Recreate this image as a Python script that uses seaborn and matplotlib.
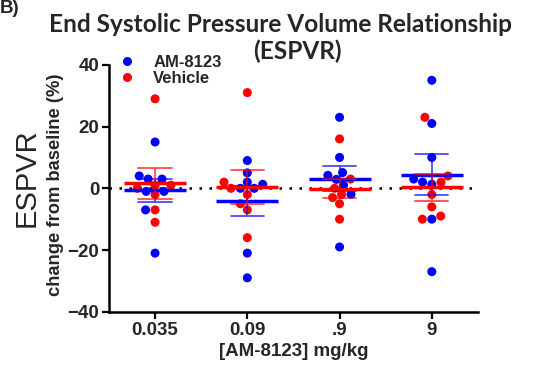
import matplotlib
matplotlib.use("Agg")
import matplotlib.pyplot as plt
from matplotlib import font_manager
import pandas as pd
import seaborn as sns

# values (% change from baseline)
doses = ['0.035', '0.09', '.9', '9']
am_0035 = [15, 4, 3, 3, -1, -1, -7, -21]
veh_0035 = [29, 1, 0, 1, -2, -7, -11]
am_009 = [9, 5, 2, 1.3, 0, 0, -21, -29]
veh_009 = [31, 2, 0, -2, -5, -7, -16]
am_09 = [23, 10, 5.1, 4.2, 2.9, 1, -2, -19]
veh_09 = [16, 3, 0, -2, -3, -5, -10]
am_9 = [35, 21, 10, 3, 2, 1.3, -10, -27]
veh_9 = [23, 4, 2, -2, -6, -9, -10]

groups = ['AM-8123', 'Vehicle']
colors = {'AM-8123': '#0000FF', 'Vehicle': '#FF0000'}

rows = []
for dose, am, veh in zip(doses, [am_0035, am_009, am_09, am_9],
                         [veh_0035, veh_009, veh_09, veh_9]):
    rows += [(dose, 'AM-8123', v) for v in am]
    rows += [(dose, 'Vehicle', v) for v in veh]
df = pd.DataFrame(rows, columns=['dose', 'group', 'value'])


def arial_like(size, bold=True):
    # pick the normal-width Liberation Sans file (avoid the Narrow cut)
    for f in font_manager.fontManager.ttflist:
        if (f.name == 'Liberation Sans' and 'Narrow' not in f.fname
                and (f.weight in (700, 'bold')) == bold
                and f.style == 'normal'):
            return font_manager.FontProperties(fname=f.fname, size=size)
    return font_manager.FontProperties(family='Liberation Sans', size=size,
                                       weight='bold' if bold else 'normal')


sns.set_style('ticks')
plt.rcParams['font.family'] = ['Liberation Sans', 'DejaVu Sans']

fig = plt.figure(figsize=(5.34, 3.77), dpi=100)
ax = fig.add_axes([0.204, 0.173, 0.691, 0.655])

ax.axhline(0, color='black', ls=(0, (1, 3)), lw=1.8, zorder=0)

sns.swarmplot(data=df, x='dose', y='value', hue='group', order=doses,
              hue_order=groups, palette=colors, size=6.5, dodge=False,
              ax=ax, zorder=2)

sns.pointplot(data=df, x='dose', y='value', hue='group', order=doses,
              hue_order=groups, palette=colors, errorbar='se', capsize=0.36,
              dodge=False, markers='_', linestyles='none', markersize=44,
              markeredgewidth=2.5, err_kws={'linewidth': 1.3, 'alpha': 0.7},
              legend=False, ax=ax)

ax.set_xlim(-0.5, 3.5)
ax.set_ylim(-40, 40)
ax.set_yticks([-40, -20, 0, 20, 40])
ax.set_xlabel('[AM-8123] mg/kg', fontproperties=arial_like(13.5), labelpad=3)
ax.set_ylabel('')
for lab in ax.get_xticklabels() + ax.get_yticklabels():
    lab.set_fontproperties(arial_like(13.5))
ax.tick_params(width=1.6, length=5, color='black', pad=2)
sns.despine(ax=ax)
for s in ['left', 'bottom']:
    ax.spines[s].set_linewidth(1.8)
    ax.spines[s].set_color('black')

handles, labels = ax.get_legend_handles_labels()
leg = ax.legend(handles[:2], labels[:2], loc='upper left',
                bbox_to_anchor=(-0.02, 1.075), frameon=False,
                handletextpad=0.6, borderpad=0, labelspacing=0.1,
                prop=arial_like(12))

fig.text(0.050, 0.53, 'ESPVR', rotation=90,
         fontproperties=arial_like(21, bold=False), ha='center', va='center')
fig.text(0.104, 0.51, 'change from baseline (%)', rotation=90,
         fontproperties=arial_like(13.2), ha='center', va='center')

fig.text(0.526, 0.934, 'End Systolic Pressure Volume Relationship',
         family='Lato', fontsize=17.6, fontweight='bold', ha='center',
         va='center')
fig.text(0.556, 0.864, '(ESPVR)',
         family='Lato', fontsize=17.6, fontweight='bold', ha='center',
         va='center')
fig.text(0.0, 1.0, 'B)', fontproperties=arial_like(13.5), ha='left', va='top')

fig.savefig('out.png', dpi=100)
